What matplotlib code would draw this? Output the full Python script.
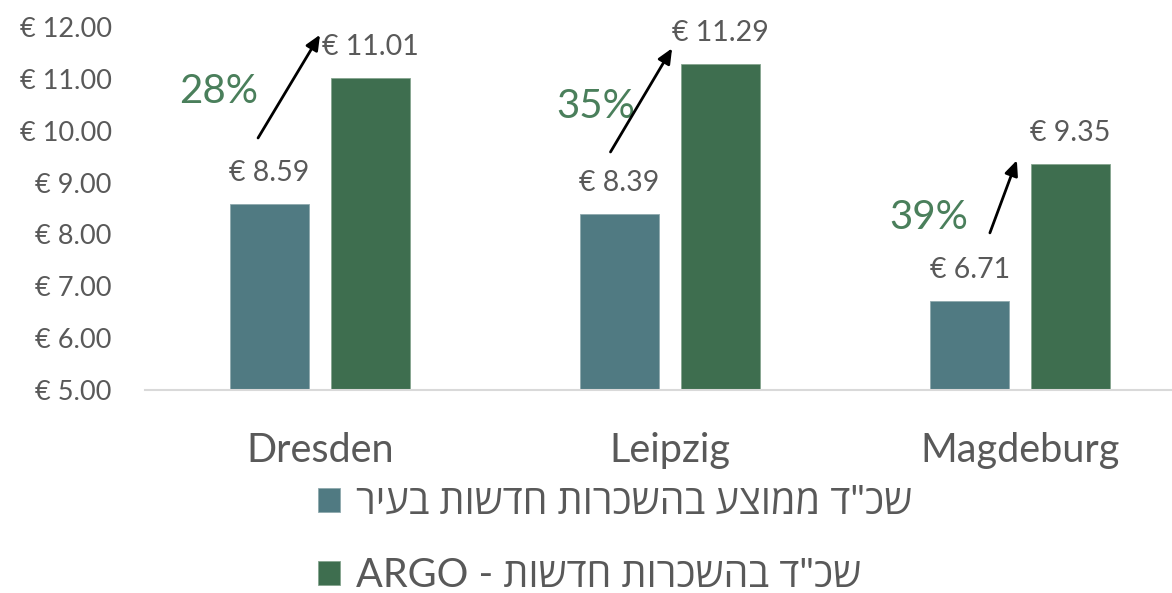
import matplotlib
matplotlib.use('Agg')
import matplotlib.pyplot as plt
import numpy as np

cities = ['Dresden', 'Leipzig', 'Magdeburg']
city_avg = [8.59, 8.39, 6.71]
argo_avg = [11.01, 11.29, 9.35]
legend_labels = ['שכ"ד ממוצע בהשכרות חדשות בעיר', 'שכ"ד בהשכרות חדשות - ARGO']
yticks = [5, 6, 7, 8, 9, 10, 11, 12]

TEAL = '#507A82'
GREEN = '#3E6E4F'
PCT_GREEN = '#4A7F5B'
GRAY = '#595959'

plt.rcParams['font.family'] = ['Lato', 'DejaVu Sans']


def visual(s):
    # matplotlib draws left to right, so flip hebrew words by hand
    out = []
    for w in reversed(s.split(' ')):
        if any('\u0590' <= c <= '\u05ff' for c in w):
            w = w[::-1]
        out.append(w)
    return ' '.join(out)


fig = plt.figure(figsize=(11.72, 5.93), dpi=100)
ax = fig.add_axes([145 / 1172, 203 / 593, 1050 / 1172, 363 / 593])

x = np.arange(len(cities))
w = 0.226
off = 0.144
b1 = ax.bar(x - off, city_avg, w, color=TEAL, edgecolor='#8FA9AE', linewidth=0.6,
            label=visual(legend_labels[0]))
b2 = ax.bar(x + off, argo_avg, w, color=GREEN, edgecolor='#86A58F', linewidth=0.6,
            label=visual(legend_labels[1]))

ax.set_ylim(5, 12)
ax.set_xlim(-0.5, 2.5)
ax.set_yticks(yticks)
ax.set_yticklabels([f'€ {v:.2f}' for v in yticks], fontsize=19.5, color=GRAY)
ax.set_xticks(x)
ax.set_xticklabels(cities, fontsize=28.5, color=GRAY)
ax.tick_params(axis='both', length=0)
ax.tick_params(axis='y', pad=24)
ax.tick_params(axis='x', pad=30)
for s in ['top', 'right', 'left']:
    ax.spines[s].set_visible(False)
ax.spines['bottom'].set_color('#D9D9D9')
ax.spines['bottom'].set_linewidth(1.5)

for xi, v in zip(x - off, city_avg):
    ax.text(xi, v + 0.6, f'€ {v:.2f}', ha='center', va='center', fontsize=20.5, color=GRAY)
for xi, v in zip(x + off, argo_avg):
    ax.text(xi, v + 0.6, f'€ {v:.2f}', ha='center', va='center', fontsize=20.5, color=GRAY)

# arrow start/end offsets from bar tops and percent label positions (layout only)
arrow_start = [(-0.177, 1.27), (-0.170, 1.20), (-0.086, 1.32)]
arrow_end = [(0.0, 0.84), (0.006, 0.30), (-0.009, 0.08)]
pct_pos = [(-0.289, 10.75), (0.789, 10.46), (1.74, 8.32)]

for i in range(len(cities)):
    sx, sy = x[i] + arrow_start[i][0], city_avg[i] + arrow_start[i][1]
    ex, ey = x[i] + arrow_end[i][0], argo_avg[i] + arrow_end[i][1]
    pct = (argo_avg[i] / city_avg[i] - 1) * 100
    ax.text(pct_pos[i][0], pct_pos[i][1], f'{pct:.0f}%', ha='center', va='center',
            fontsize=29, color=PCT_GREEN, zorder=3)
    ax.annotate('', xy=(ex, ey), xytext=(sx, sy),
                arrowprops=dict(arrowstyle='-|>,head_length=0.9,head_width=0.4',
                                color='black', lw=2, shrinkA=0, shrinkB=0), zorder=4)

fig.legend(handles=[b1, b2], loc='center', bbox_to_anchor=(615 / 1172, 1 - 539 / 593),
           frameon=False, labelspacing=0.9, handlelength=0.55, handleheight=0.55,
           handletextpad=0.4, labelcolor=GRAY,
           prop={'family': ['Lato', 'Open Sans', 'DejaVu Sans'], 'size': 28.5})

fig.savefig('out.png', dpi=100)
